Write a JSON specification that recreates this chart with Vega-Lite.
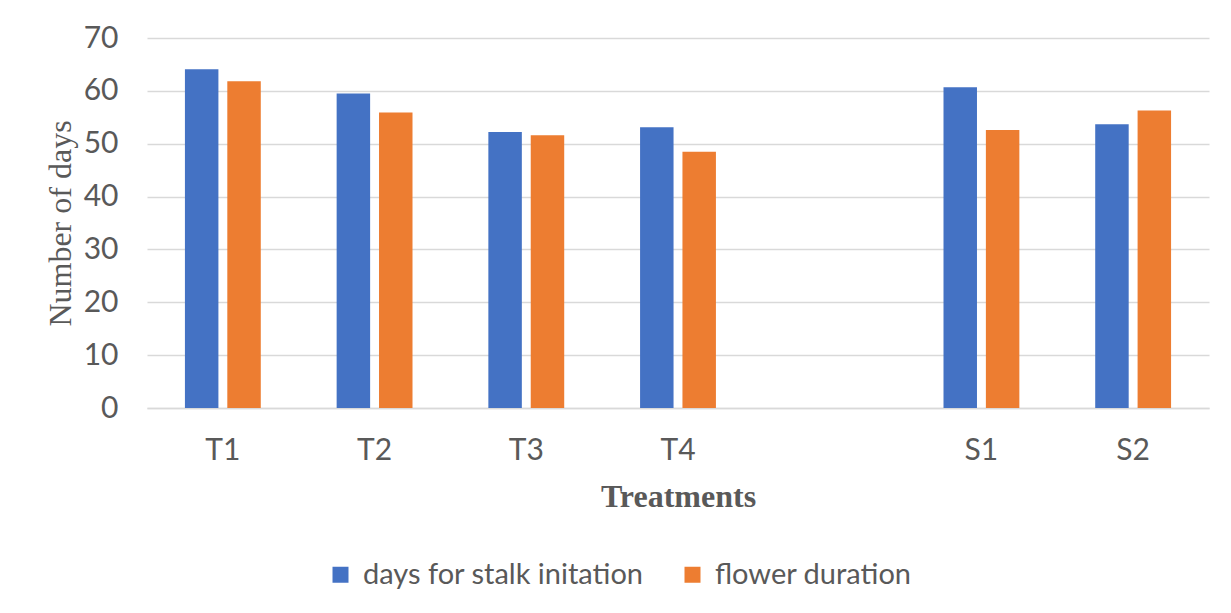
{
  "$schema": "https://vega.github.io/schema/vega-lite/v6.json",
  "width": 1062,
  "height": 370,
  "autosize": {"type": "none"},
  "padding": {"left": 147, "top": 38, "right": 22, "bottom": 205},
  "background": "white",
  "config": {
    "view": {"stroke": null},
    "axis": {
      "labelFont": "Lato",
      "labelColor": "#595959",
      "titleColor": "#595959",
      "gridColor": "#d9d9d9",
      "gridWidth": 1.5,
      "domainColor": "#d9d9d9",
      "domainWidth": 1.5,
      "ticks": false
    }
  },
  "data": {
    "values": [
      {"treatment": "T1", "series": "days for stalk initation", "value": 64.1},
      {"treatment": "T1", "series": "flower duration", "value": 61.8},
      {"treatment": "T2", "series": "days for stalk initation", "value": 59.5},
      {"treatment": "T2", "series": "flower duration", "value": 55.9},
      {"treatment": "T3", "series": "days for stalk initation", "value": 52.2},
      {"treatment": "T3", "series": "flower duration", "value": 51.6},
      {"treatment": "T4", "series": "days for stalk initation", "value": 53.1},
      {"treatment": "T4", "series": "flower duration", "value": 48.5},
      {"treatment": "S1", "series": "days for stalk initation", "value": 60.7},
      {"treatment": "S1", "series": "flower duration", "value": 52.6},
      {"treatment": "S2", "series": "days for stalk initation", "value": 53.7},
      {"treatment": "S2", "series": "flower duration", "value": 56.3}
    ]
  },
  "mark": {"type": "bar"},
  "encoding": {
    "x": {
      "field": "treatment",
      "type": "nominal",
      "scale": {"domain": ["T1", "T2", "T3", "T4", " ", "S1", "S2"], "paddingInner": 0.5, "paddingOuter": 0.25},
      "axis": {
        "title": "Treatments",
        "labelAngle": 0,
        "labelFontSize": 30,
        "labelPadding": 27,
        "grid": false,
        "titleFont": "Liberation Serif",
        "titleFontWeight": "bold",
        "titleFontSize": 32,
        "titlePadding": 16
      }
    },
    "xOffset": {
      "field": "series",
      "type": "nominal",
      "scale": {"domain": ["days for stalk initation", "flower duration"], "paddingInner": 0.21, "paddingOuter": 0}
    },
    "y": {
      "field": "value",
      "type": "quantitative",
      "scale": {"domain": [0, 70], "nice": false},
      "axis": {
        "title": "Number of days",
        "values": [0, 10, 20, 30, 40, 50, 60, 70],
        "labelFontSize": 30,
        "labelPadding": 29,
        "domain": false,
        "titleFont": "Liberation Serif",
        "titleFontWeight": "normal",
        "titleFontSize": 32,
        "titlePadding": 6
      }
    },
    "color": {
      "field": "series",
      "type": "nominal",
      "scale": {"domain": ["days for stalk initation", "flower duration"], "range": ["#4472C4", "#ED7D31"]},
      "legend": {
        "title": null,
        "orient": "none",
        "direction": "horizontal",
        "legendX": 179,
        "legendY": 522,
        "symbolType": "square",
        "symbolSize": 256,
        "symbolStrokeWidth": 0,
        "labelFont": "Lato",
        "labelFontSize": 29,
        "labelColor": "#595959",
        "labelOffset": 8,
        "columnPadding": 34,
        "labelLimit": 500
      }
    }
  }
}
